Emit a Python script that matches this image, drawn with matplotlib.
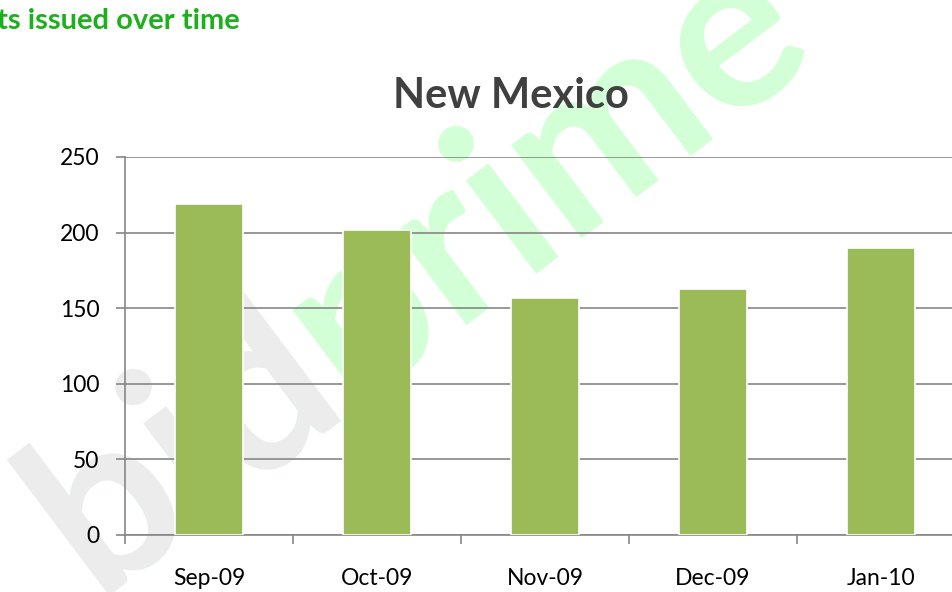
import matplotlib.pyplot as plt
import numpy as np

months = ['Sep-09', 'Oct-09', 'Nov-09', 'Dec-09', 'Jan-10']
permits = [219, 202, 157, 163, 190]
yticks = [0, 50, 100, 150, 200, 250]

plt.rcParams['font.family'] = ['Lato', 'DejaVu Sans']

fig = plt.figure(figsize=(9.53, 5.92), dpi=100)

# faint watermark behind the chart
wm = dict(rotation=37, rotation_mode='anchor', ha='left', va='baseline',
          fontsize=165, fontweight='bold', zorder=-1)
fig.text(0.10, -0.005, 'bidprime', color='#d3ffd6', **wm)
fig.text(0.10, -0.005, 'bid', color='#ececec', **wm)

ax = fig.add_axes([0.1312, 0.0963, 0.8814, 0.6385])
ax.patch.set_alpha(0)

x = np.arange(len(months))
ax.bar(x, permits, width=0.4, color='#9bbb59', edgecolor='white',
       linewidth=1.2, zorder=3)

ax.set_xlim(-0.5, len(months) - 0.5)
ax.set_ylim(0, 250)
ax.set_yticks(yticks)
ax.set_xticks(x)
ax.set_xticklabels(months)
ax.set_xticks(np.arange(-0.5, len(months)), minor=True)
ax.tick_params(axis='x', which='major', length=0, pad=24, labelsize=16.5)
ax.tick_params(axis='x', which='minor', length=6.5, color='#868686', width=1.2)
ax.tick_params(axis='y', length=6.5, color='#868686', width=1.2, labelsize=16.5, pad=12)
ax.yaxis.grid(True, color='#868686', linewidth=1.2, zorder=1)
ax.set_axisbelow(True)

for s in ['top', 'right']:
    ax.spines[s].set_visible(False)
for s in ['left', 'bottom']:
    ax.spines[s].set_color('#868686')
    ax.spines[s].set_linewidth(1.2)

fig.text(511 / 953, 1 - 96 / 592, 'New Mexico', ha='center', va='center',
         fontsize=30, fontweight='bold', color='#404040')
fig.text(240 / 953, 1 - 21 / 592, 'Permits issued over time', ha='right',
         va='center', fontsize=21, fontweight='bold', color='#1db01d')

fig.savefig('out.png', dpi=100)
